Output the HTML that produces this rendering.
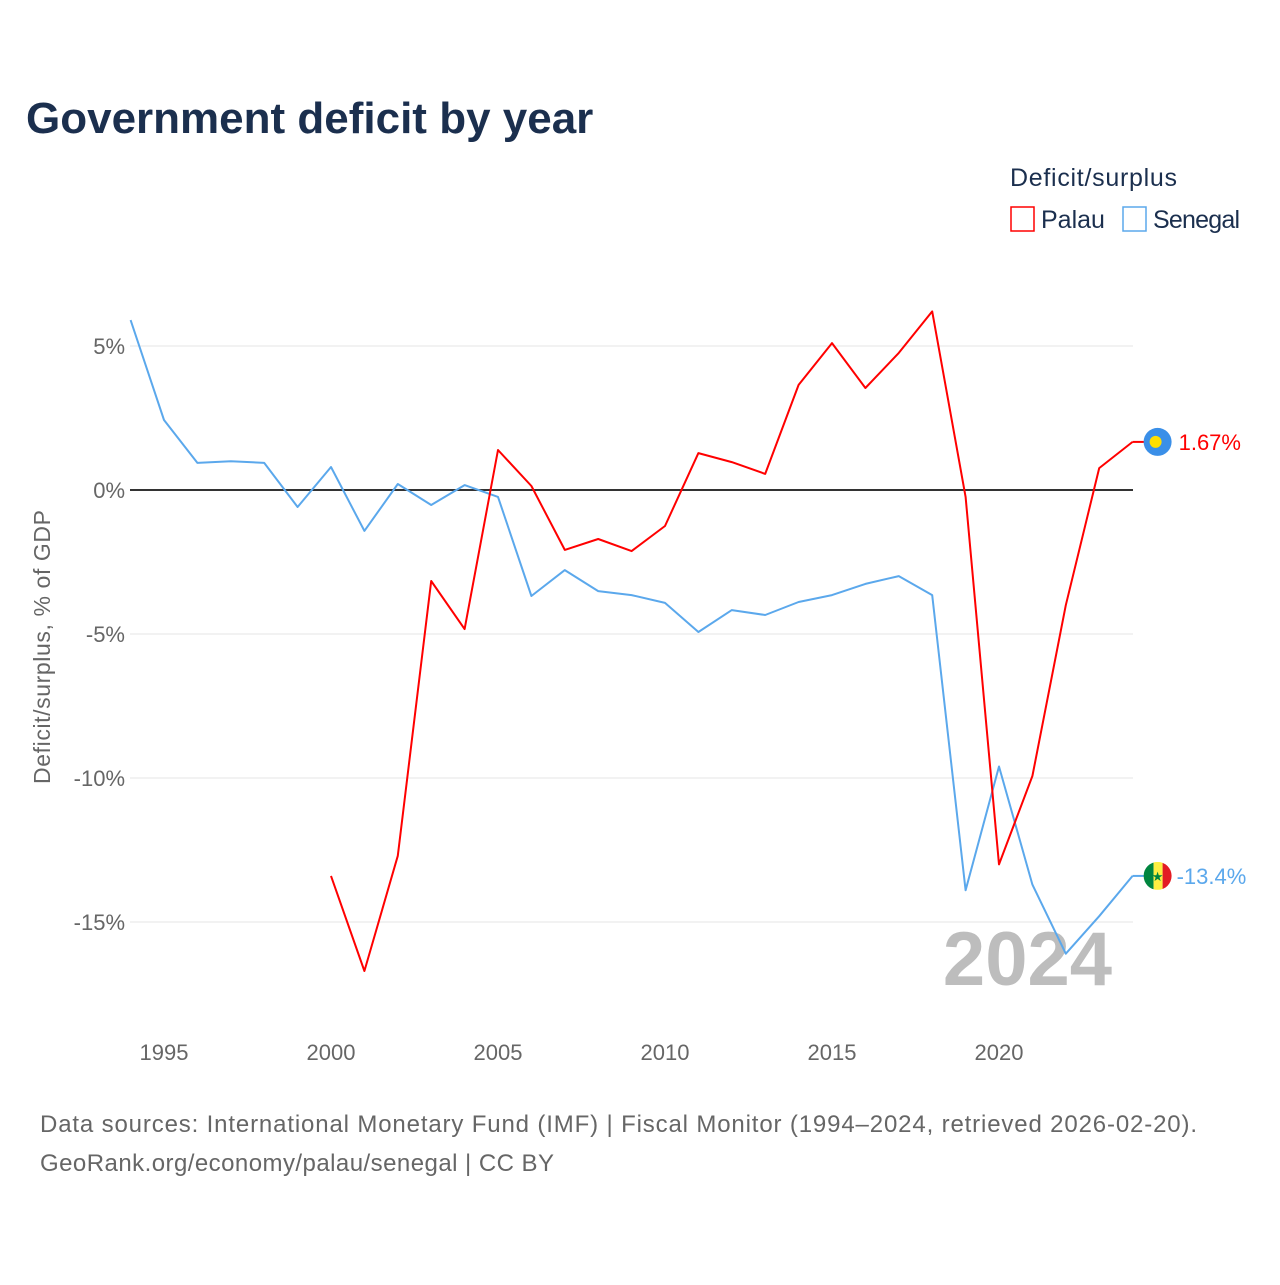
<!DOCTYPE html>
<html><head><meta charset="utf-8">
<style>
html,body{margin:0;padding:0;background:#fff;}
body{width:1280px;height:1280px;overflow:hidden;font-family:"Liberation Sans",sans-serif;}
</style></head>
<body>
<svg id="chart" width="1280" height="1280" xmlns="http://www.w3.org/2000/svg" font-family="Liberation Sans, sans-serif">
<rect width="1280" height="1280" fill="#fff"/>
<text x="26" y="133" font-size="44" font-weight="bold" fill="#1b2f4e">Government deficit by year</text>
<text x="1010" y="186" font-size="25" fill="#1b2f4e" textLength="167">Deficit/surplus</text>
<g>
<rect x="1011" y="207" width="23" height="24" fill="none" stroke="#ff0000" stroke-width="1.5"/>
<text x="1041" y="228" font-size="25" fill="#1b2f4e">Palau</text></g>
<g>
<rect x="1123" y="207" width="23" height="24" fill="none" stroke="#5ba8ec" stroke-width="1.5"/>
<text x="1153" y="228" font-size="25" fill="#1b2f4e" textLength="87">Senegal</text></g>
<text transform="translate(50,647) rotate(-90)" text-anchor="middle" font-size="23" fill="#666" textLength="274">Deficit/surplus, % of GDP</text>
<g id="grid"></g><g id="axes"></g>
<text x="1112" y="985" text-anchor="end" font-size="76" font-weight="bold" fill="#bdbdbd">2024</text>
<g id="series"></g>
<text x="40" y="1132" font-size="24" fill="#666" textLength="1157">Data sources: International Monetary Fund (IMF) | Fiscal Monitor (1994–2024, retrieved 2026-02-20).</text>
<text x="40" y="1171" font-size="24" fill="#666" textLength="514">GeoRank.org/economy/palau/senegal | CC BY</text>
</svg>
<script>
const years = [];
for (let y = 1994; y <= 2024; y++) years.push(y);
const senegal = [5.9,2.43,0.94,1.0,0.94,-0.59,0.8,-1.42,0.21,-0.52,0.17,-0.24,-3.68,-2.78,-3.51,-3.65,-3.92,-4.93,-4.17,-4.34,-3.89,-3.65,-3.26,-2.99,-3.65,-13.9,-9.6,-13.7,-16.1,-14.8,-13.4];
const palauYears = [2000,2001,2002,2003,2004,2005,2006,2007,2008,2009,2010,2011,2012,2013,2014,2015,2016,2017,2018,2019,2020,2021,2022,2023,2024];
const palau = [-13.4,-16.7,-12.7,-3.16,-4.83,1.39,0.14,-2.08,-1.7,-2.12,-1.25,1.28,0.97,0.56,3.65,5.1,3.54,4.76,6.2,-0.24,-13.0,-9.93,-4.0,0.76,1.67];
const yTicks = [5,0,-5,-10,-15];
const yTickLabels = ["5%","0%","-5%","-10%","-15%"];
const xTicks = [1995,2000,2005,2010,2015,2020];

const X = yr => 130.6 + (yr - 1994) * 33.4;
const Y = v => 490 - v * 28.8;
const NS = "http://www.w3.org/2000/svg";
function mk(tag, attrs, parent) {
  const e = document.createElementNS(NS, tag);
  for (const k in attrs) e.setAttribute(k, attrs[k]);
  parent.appendChild(e);
  return e;
}
const grid = document.getElementById('grid'), axes = document.getElementById('axes'), series = document.getElementById('series');
yTicks.forEach((v, i) => {
  const l = mk('line', {x1:130, x2:1133, y1:Y(v), y2:Y(v), stroke: v===0 ? '#333' : '#e6e6e6', 'stroke-width': v===0 ? 2 : 1}, grid);
  
  
  const t = mk('text', {x:125, y:Y(v)+8, 'text-anchor':'end', 'font-size':22, fill:'#666'}, axes);
  t.textContent = yTickLabels[i];
  
  
});
xTicks.forEach(yr => {
  const t = mk('text', {x:X(yr), y:1060, 'text-anchor':'middle', 'font-size':22, fill:'#666'}, axes);
  t.textContent = yr;
  
  
});
function line(xs, vs, color, name) {
  const d = vs.map((v, i) => (i ? 'L' : 'M') + X(xs[i]).toFixed(1) + ',' + Y(v).toFixed(1)).join('');
  const p = mk('path', {d, fill:'none', stroke:color, 'stroke-width':2, 'stroke-linejoin':'round'}, series);
  
  
}
line(years, senegal, '#5ba8ec', 'senegal-line');
line(palauYears, palau, '#ff0000', 'palau-line');

const pv = palau[palau.length-1], sv = senegal[senegal.length-1];
const pg = mk('g', {}, series);


mk('line', {x1:X(2024), x2:X(2024)+12, y1:Y(pv), y2:Y(pv), stroke:'#ff0000', 'stroke-width':2}, pg);
mk('circle', {cx:X(2024)+25, cy:Y(pv), r:14, fill:'#3a8fe8'}, pg);
mk('circle', {cx:X(2024)+23, cy:Y(pv), r:6, fill:'#ffde00'}, pg);
const pt = mk('text', {x:X(2024)+46, y:Y(pv)+8, 'font-size':22, fill:'#ff0000'}, pg);
pt.textContent = pv.toFixed(2) + '%';


const sg = mk('g', {}, series);


mk('line', {x1:X(2024), x2:X(2024)+12, y1:Y(sv), y2:Y(sv), stroke:'#5ba8ec', 'stroke-width':2}, sg);
const cx = X(2024)+25, cy = Y(sv);
mk('clipPath', {id:'sc'}, sg).appendChild(document.createElementNS(NS,'circle'));
const cc = sg.querySelector('#sc circle'); cc.setAttribute('cx',cx); cc.setAttribute('cy',cy); cc.setAttribute('r',14);
mk('rect', {x:cx-14, y:cy-14, width:10, height:28, fill:'#00853f', 'clip-path':'url(#sc)'}, sg);
mk('rect', {x:cx-4, y:cy-14, width:9, height:28, fill:'#fdef42', 'clip-path':'url(#sc)'}, sg);
mk('rect', {x:cx+5, y:cy-14, width:10, height:28, fill:'#e31b23', 'clip-path':'url(#sc)'}, sg);
const star = mk('text', {x:cx, y:cy+5, 'text-anchor':'middle', 'font-size':13, fill:'#00853f'}, sg);
star.textContent = '★';
const st = mk('text', {x:X(2024)+44, y:Y(sv)+8, 'font-size':22, fill:'#5ba8ec'}, sg);
st.textContent = sv.toFixed(1) + '%';


</script>
</body></html>
